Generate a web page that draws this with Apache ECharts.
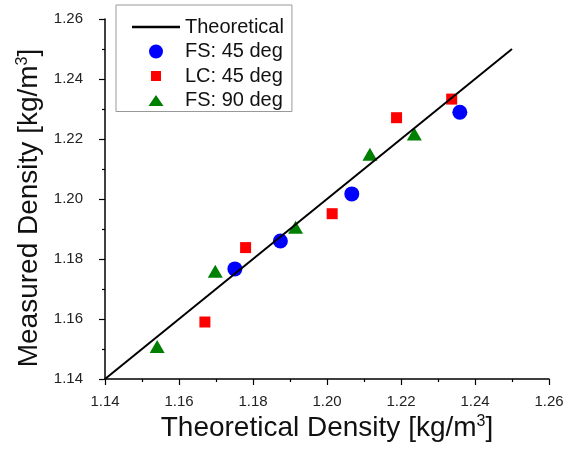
<!DOCTYPE html>
<html><head><meta charset="utf-8">
<script src="https://cdn.jsdelivr.net/npm/echarts@6/dist/echarts.min.js"></script>
<style>html,body{margin:0;padding:0;background:#fff}#c{width:573px;height:454px}</style>
</head><body><div id="c"></div>
<script>
const seriesNames = ['Theoretical', 'FS: 45 deg', 'LC: 45 deg', 'FS: 90 deg'];
const theoretical = [[1.14, 1.14], [1.25, 1.25]];
const fs45 = [[1.1751, 1.1767], [1.1874, 1.1860], [1.2067, 1.2017], [1.2359, 1.2289]];
const lc45 = [[1.1670, 1.1590], [1.1780, 1.1838], [1.2014, 1.1951], [1.2188, 1.2271], [1.2337, 1.2333]];
const fs90 = [[1.1541, 1.1508], [1.1698, 1.1759], [1.1915, 1.1906], [1.2116, 1.2149], [1.2236, 1.2217]];
const axisMin = 1.14, axisMax = 1.26, axisStep = 0.02;

const FONT = '"Liberation Sans", Arial, sans-serif';
const chart = echarts.init(document.getElementById('c'), null, {renderer: 'canvas'});
// legend icons drawn in a 48x14 box (corner dots fix the box so shapes keep their aspect)
const BOX = 'M0,0 L0.001,0 L0,0.001 Z M48,14 L47.999,14 L48,13.999 Z ';
const ICONS = [
  'path://' + BOX + 'M0,5.8 L48,5.8 L48,8.2 L0,8.2 Z',
  'path://' + BOX + 'M16.5,7 A7.5,7.5 0 1,1 31.5,7 A7.5,7.5 0 1,1 16.5,7 Z',
  'path://' + BOX + 'M19,2 L29,2 L29,12 L19,12 Z',
  'path://' + BOX + 'M24,1.5 L31.5,12.5 L16.5,12.5 Z'
];
function axisCommon() {
  return {
    type: 'value', min: axisMin, max: axisMax, interval: axisStep,
    axisLine: {show: true, lineStyle: {color: '#000', width: 1.5}},
    axisTick: {show: true, inside: false, length: 6, lineStyle: {color: '#000', width: 1.2}},
    minorTick: {show: true, splitNumber: 2, length: 3, lineStyle: {color: '#000', width: 1.2}},
    splitLine: {show: false},
    nameLocation: 'middle'
  };
}
const nameRich = {
  a: {fontSize: 28, fontFamily: FONT, color: '#111'},
  e: {fontSize: 28, fontFamily: FONT, color: '#111', padding: [0, 18, 0, 0]},
  s: {fontSize: 16, fontFamily: FONT, color: '#111', verticalAlign: 'top', padding: [0, 0, 12, 0]}
};
const option = {
  animation: false,
  backgroundColor: '#fff',
  grid: {left: 105, right: 24, top: 19, bottom: 75},
  xAxis: Object.assign(axisCommon(), {
    name: '{a|Theoretical Density [kg/m}{s|3}{a|]}', nameGap: 32,
    nameTextStyle: {rich: nameRich},
    axisLabel: {color: '#222', fontSize: 15, fontFamily: FONT, margin: 15, formatter: v => v.toFixed(2)}
  }),
  yAxis: Object.assign(axisCommon(), {
    name: '{a|Measured Density [kg/m}{s|3}{e|]}', nameGap: 60,
    nameTextStyle: {rich: nameRich},
    axisLabel: {color: '#222', fontSize: 15, fontFamily: FONT, margin: 22, formatter: v => v.toFixed(2)}
  }),
  legend: {
    left: 116, top: 5, orient: 'vertical',
    padding: [12, 8, 1, 16],
    itemWidth: 48, itemHeight: 14, itemGap: 4.5,
    borderColor: '#999', borderWidth: 1,
    textStyle: {fontSize: 20, fontFamily: FONT, color: '#111'},
    data: seriesNames.map((n, i) => ({name: n, icon: ICONS[i]}))
  },
  series: [
    {name: seriesNames[0], type: 'line', data: theoretical, symbol: 'none',
     lineStyle: {color: '#000', width: 2}, itemStyle: {color: '#000'}},
    {name: seriesNames[1], type: 'scatter', data: fs45, symbol: 'circle', symbolSize: 15,
     itemStyle: {color: '#0000ff', opacity: 1}},
    {name: seriesNames[2], type: 'scatter', data: lc45, symbol: 'rect', symbolSize: 11,
     itemStyle: {color: '#ff0000', opacity: 1}},
    {name: seriesNames[3], type: 'scatter', data: fs90, symbol: 'triangle', symbolSize: [15, 13],
     itemStyle: {color: '#008000', opacity: 1}}
  ]
};
chart.setOption(option);
</script></body></html>
